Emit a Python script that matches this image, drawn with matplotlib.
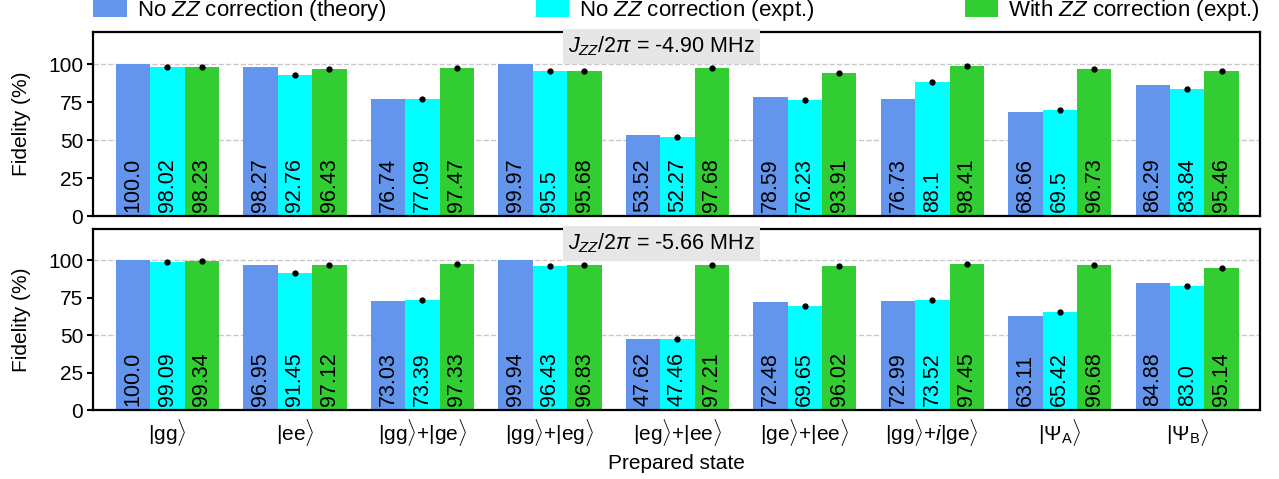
import numpy as np
import matplotlib as mpl
import matplotlib.pyplot as plt

states = [r'$|\mathrm{gg}\rangle$', r'$|\mathrm{ee}\rangle$',
          r'$|\mathrm{gg}\rangle$+$|\mathrm{ge}\rangle$', r'$|\mathrm{gg}\rangle$+$|\mathrm{eg}\rangle$',
          r'$|\mathrm{eg}\rangle$+$|\mathrm{ee}\rangle$', r'$|\mathrm{ge}\rangle$+$|\mathrm{ee}\rangle$',
          r'$|\mathrm{gg}\rangle$+$i|\mathrm{ge}\rangle$', r'$|\Psi_\mathrm{A}\rangle$', r'$|\Psi_\mathrm{B}\rangle$']

labels = ['No $ZZ$ correction (theory)', 'No $ZZ$ correction (expt.)', 'With $ZZ$ correction (expt.)']
colors = ['#6495ED', '#00FFFF', '#32CD32']

# J_ZZ/2pi = -4.90 MHz
theory_1 = [100.0, 98.27, 76.74, 99.97, 53.52, 78.59, 76.73, 68.66, 86.29]
nocorr_1 = [98.02, 92.76, 77.09, 95.5, 52.27, 76.23, 88.1, 69.5, 83.84]
corr_1 = [98.23, 96.43, 97.47, 95.68, 97.68, 93.91, 98.41, 96.73, 95.46]
nocorr_err_1 = [0.6, 0.4, 0.4, 0.7, 0.4, 0.4, 0.6, 0.6, 0.5]
corr_err_1 = [0.4, 0.3, 0.8, 0.7, 0.4, 0.3, 0.4, 0.4, 0.9]

# J_ZZ/2pi = -5.66 MHz
theory_2 = [100.0, 96.95, 73.03, 99.94, 47.62, 72.48, 72.99, 63.11, 84.88]
nocorr_2 = [99.09, 91.45, 73.39, 96.43, 47.46, 69.65, 73.52, 65.42, 83.0]
corr_2 = [99.34, 97.12, 97.33, 96.83, 97.21, 96.02, 97.45, 96.68, 95.14]
nocorr_err_2 = [0.4, 0.4, 0.3, 0.4, 0.4, 0.6, 0.4, 0.6, 0.4]
corr_err_2 = [0.4, 0.3, 0.4, 0.3, 0.3, 0.4, 0.3, 0.4, 0.4]

font = {
    'family': ['Liberation Sans', 'DejaVu Sans'],
    'size': 15
}
mpl.rc('font', **font)
mpl.rc('mathtext', fontset='custom', rm='Liberation Sans', it='Liberation Sans:italic',
       bf='Liberation Sans:bold')


def plot_panel(ax, theory, nocorr, corr, nocorr_err, corr_err, title, show_x):
    x = np.arange(len(theory))
    w = 0.27
    series = [theory, nocorr, corr]
    for k, vals in enumerate(series):
        ax.bar(x + (k - 1) * w, vals, w, color=colors[k], label=labels[k], zorder=2)
        for xi, v in zip(x, vals):
            ax.text(xi + (k - 1) * w, 2.5, '{}'.format(v), rotation=90, ha='center', va='bottom',
                    fontsize=15.5, zorder=4)
    ax.errorbar(x, nocorr, yerr=nocorr_err, fmt='o', ms=3.5, color='black', elinewidth=1.5,
                capsize=0, zorder=3)
    ax.errorbar(x + w, corr, yerr=corr_err, fmt='o', ms=3.5, color='black', elinewidth=1.5,
                capsize=0, zorder=3)
    for yg in [50, 100]:
        ax.axhline(yg, color='#c8c8c8', ls='--', lw=1, zorder=1)
    ax.set_xlim(-0.58, 8.57)
    ax.set_ylim(0, 121)
    ax.set_yticks([0, 25, 50, 75, 100])
    ax.set_ylabel('Fidelity (%)', labelpad=12)
    ax.set_xticks(x)
    if show_x:
        ax.set_xticklabels(states)
    else:
        ax.set_xticklabels([])
    ax.tick_params(axis='x', length=0, pad=5)
    ax.tick_params(axis='y', length=4, width=1.5)
    for s in ax.spines.values():
        s.set_linewidth(1.6)
    ax.text(0.487, 0.985, title, transform=ax.transAxes, ha='center', va='top', fontsize=15.5,
            bbox=dict(boxstyle='square,pad=0.25', facecolor='#e6e6e6', edgecolor='none'), zorder=5)


fig = plt.figure(figsize=(12.79, 4.79), dpi=100)
ax1 = fig.add_axes([0.0731, 0.549, 0.912, 0.384])
ax2 = fig.add_axes([0.0731, 0.144, 0.912, 0.378])

plot_panel(ax1, theory_1, nocorr_1, corr_1, nocorr_err_1, corr_err_1,
           r'$J_{ZZ}/2\pi$ = -4.90 MHz', False)
plot_panel(ax2, theory_2, nocorr_2, corr_2, nocorr_err_2, corr_err_2,
           r'$J_{ZZ}/2\pi$ = -5.66 MHz', True)
ax2.set_xlabel('Prepared state', labelpad=4)

handles, leg_labels = ax1.get_legend_handles_labels()
fig.legend(handles, leg_labels, ncol=3, mode='expand', frameon=False, fontsize=16,
           bbox_to_anchor=(0.0731, 0.952, 0.912, 0.04), loc='lower left', borderaxespad=0,
           handlelength=1.5, handleheight=0.8, handletextpad=0.45, borderpad=0)

plt.savefig('out.png', dpi=100)
plt.close()
